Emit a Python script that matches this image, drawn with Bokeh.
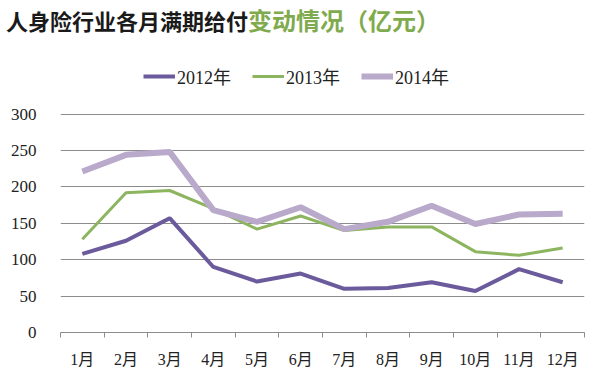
from bokeh.plotting import figure
from bokeh.models import Range1d, FixedTicker, Legend, LegendItem, Div
from bokeh.layouts import column
from bokeh.embed import file_html
from bokeh.resources import INLINE

months = ["1月", "2月", "3月", "4月", "5月", "6月", "7月", "8月", "9月", "10月", "11月", "12月"]
y2012 = [108, 126, 157, 90, 70, 81, 60, 61, 69, 57, 87, 69]
y2013 = [128, 192, 195, 170, 142, 160, 140, 145, 145, 111, 106, 116]
y2014 = [221, 244, 248, 168, 152, 172, 142, 152, 174, 149, 162, 163]
series_names = ["2012年", "2013年", "2014年"]
yticks = [0, 50, 100, 150, 200, 250, 300]

title_black = "人身险行业各月满期给付"
title_green = "变动情况（亿元）"

W = 594
DIV_H = 40
H = 334
FL, FR, FB = 60, 10, 42

title = Div(
    text=(f'<span style="color:#1a1a1a;font-size:22px">{title_black}</span>'
          f'<span style="color:#7fab4e;font-size:24px">{title_green}</span>'),
    width=W, height=DIV_H, margin=(0, 0, 0, 0),
    styles={"font-family": "Noto Sans CJK SC", "font-weight": "bold",
            "text-indent": "6px", "line-height": "40px", "padding": "0px",
            "white-space": "nowrap", "overflow": "hidden"})

p = figure(width=W, height=H, output_backend="svg", toolbar_location=None,
           x_range=Range1d(0, 12), y_range=Range1d(0, 401),
           min_border_left=FL, min_border_right=FR, min_border_top=0, min_border_bottom=FB,
           margin=(0, 0, 0, 0))
p.outline_line_color = None
p.background_fill_color = "white"
p.border_fill_color = "white"

xs = [i + 0.5 for i in range(len(months))]
serif = "Liberation Serif, Noto Sans CJK SC, serif"

r1 = p.line(xs, y2012, line_color="#6b5a9c", line_width=4)
r2 = p.line(xs, y2013, line_color="#8db560", line_width=3)
r3 = p.line(xs, y2014, line_color="#b9a9ca", line_width=6)

# axes
p.xaxis.ticker = FixedTicker(ticks=xs, minor_ticks=list(range(0, 13)))
p.xaxis.major_label_overrides = {x: m for x, m in zip(xs, months)}
p.xaxis.major_tick_out = 0
p.xaxis.major_tick_in = 0
p.xaxis.minor_tick_out = 5
p.xaxis.minor_tick_in = 0
p.xaxis.minor_tick_line_color = "#8c8c8c"
p.xaxis.axis_line_color = "#8c8c8c"
p.xaxis.axis_line_width = 1.2
p.xaxis.major_label_standoff = 13
p.xaxis.major_label_text_font = serif
p.xaxis.major_label_text_font_size = "16px"
p.xaxis.major_label_text_color = "#222222"

p.yaxis.ticker = FixedTicker(ticks=yticks)
p.yaxis.major_tick_out = 0
p.yaxis.major_tick_in = 0
p.yaxis.minor_tick_out = 0
p.yaxis.minor_tick_in = 0
p.yaxis.axis_line_color = None
p.yaxis.major_label_standoff = 24
p.yaxis.major_label_text_font = serif
p.yaxis.major_label_text_font_size = "17px"
p.yaxis.major_label_text_color = "#222222"

p.xgrid.grid_line_color = None
p.ygrid.ticker = FixedTicker(ticks=yticks)
p.ygrid.grid_line_color = "#8c8c8c"
p.ygrid.grid_line_width = 1.2

legend = Legend(items=[LegendItem(label=series_names[0], renderers=[r1]),
                       LegendItem(label=series_names[1], renderers=[r2]),
                       LegendItem(label=series_names[2], renderers=[r3])],
                orientation="horizontal", location=(83, 243),
                glyph_width=32, glyph_height=20, label_standoff=2, spacing=21,
                padding=0, margin=0, border_line_color=None, background_fill_alpha=0,
                label_text_font=serif, label_text_font_size="18px", label_text_color="#222222")
p.add_layout(legend, "center")

layout = column(title, p, spacing=0)
open("out.html", "w").write(file_html(layout, INLINE))
